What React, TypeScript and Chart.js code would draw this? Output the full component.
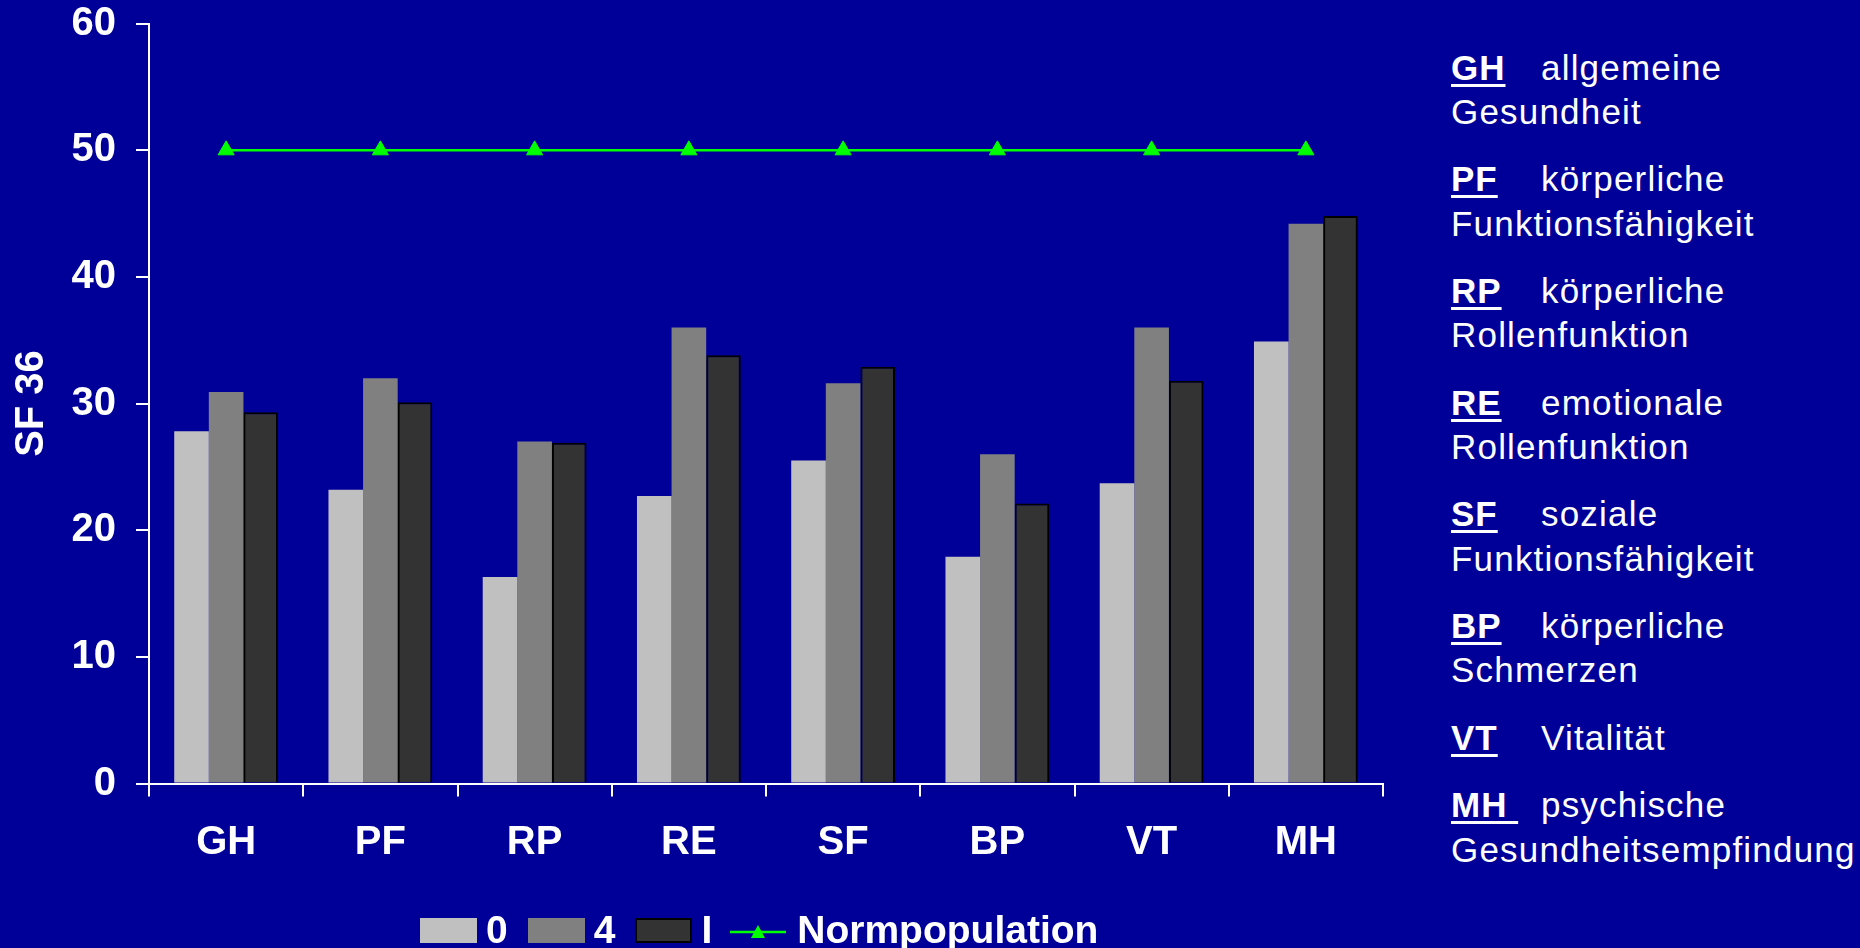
import React, { useEffect, useRef } from "react";
import { Chart, registerables } from "chart.js";

Chart.register(...registerables);

// ---- data ----
const categories = ["GH", "PF", "RP", "RE", "SF", "BP", "VT", "MH"];
const seriesLabels = ["0", "4", "I", "Normpopulation"];
const series0 = [27.8, 23.2, 16.3, 22.7, 25.5, 17.9, 23.7, 34.9];
const series4 = [30.9, 32.0, 27.0, 36.0, 31.6, 26.0, 36.0, 44.2];
const seriesI = [29.3, 30.1, 26.9, 33.8, 32.9, 22.1, 31.8, 44.8];
const normpopulation = [50, 50, 50, 50, 50, 50, 50, 50];
const yTicks = [0, 10, 20, 30, 40, 50, 60];
const yTitle = "SF 36";
const descLine1 = ["allgemeine", "körperliche", "körperliche", "emotionale", "soziale", "körperliche", "Vitalität", "psychische"];
const descLine2 = ["Gesundheit", "Funktionsfähigkeit", "Rollenfunktion", "Rollenfunktion", "Funktionsfähigkeit", "Schmerzen", "", "Gesundheitsempfindung"];

// ---- styles ----
const BG = "#000099";
const FONT = "'Liberation Sans', Arial, Helvetica, sans-serif";
const barColors = ["#C0C0C0", "#808080", "#333333"];
const lineColor = "#00FF00";

export default function App() {
  const canvasRef = useRef<HTMLCanvasElement | null>(null);

  useEffect(() => {
    const canvas = canvasRef.current;
    if (!canvas) return;
    Chart.defaults.font.family = FONT;
    const tickFont = { family: FONT, size: 40, weight: "bold" as const };
    const chart = new Chart(canvas, {
      type: "bar",
      data: {
        labels: categories,
        datasets: [
          {
            type: "line",
            label: seriesLabels[3],
            data: normpopulation,
            borderColor: lineColor,
            backgroundColor: lineColor,
            borderWidth: 2.5,
            pointStyle: "triangle",
            pointRadius: 9.3,
            pointBackgroundColor: lineColor,
            pointBorderColor: lineColor,
            pointBorderWidth: 1,
            order: 0,
          } as any,
          {
            label: seriesLabels[0],
            data: series0,
            backgroundColor: barColors[0],
            borderWidth: 0,
            categoryPercentage: 0.673,
            barPercentage: 1,
            order: 1,
          },
          {
            label: seriesLabels[1],
            data: series4,
            backgroundColor: barColors[1],
            borderWidth: 0,
            categoryPercentage: 0.673,
            barPercentage: 1,
            order: 2,
          },
          {
            label: seriesLabels[2],
            data: seriesI,
            backgroundColor: barColors[2],
            borderColor: "#000000",
            borderWidth: 2,
            categoryPercentage: 0.673,
            barPercentage: 1,
            order: 3,
          },
        ],
      },
      options: {
        responsive: false,
        animation: false,
        devicePixelRatio: 1,
        layout: { padding: { top: 0, right: 17, bottom: 0, left: 0 } },
        plugins: { legend: { display: false }, tooltip: { enabled: false } },
        scales: {
          x: {
            offset: true,
            grid: {
              display: true,
              drawOnChartArea: false,
              drawTicks: true,
              tickLength: 13,
              color: "#FFFFFF",
              lineWidth: 2,
              offset: true,
            },
            border: { display: true, color: "#FFFFFF", width: 2 },
            ticks: { color: "#FFFFFF", font: tickFont, padding: 22, maxRotation: 0 },
            afterFit: (s: any) => {
              s.height = 164.5;
              s.paddingLeft = 0;
              s.paddingRight = 0;
            },
          },
          y: {
            min: 0,
            max: 60,
            afterBuildTicks: (s: any) => {
              s.ticks = yTicks.map((v) => ({ value: v }));
            },
            grid: {
              display: true,
              drawOnChartArea: false,
              drawTicks: true,
              tickLength: 13,
              color: "#FFFFFF",
              lineWidth: 2,
            },
            border: { display: true, color: "#FFFFFF", width: 2 },
            ticks: { color: "#FFFFFF", font: tickFont, padding: 20 },
            title: {
              display: true,
              text: yTitle,
              color: "#FFFFFF",
              font: { family: FONT, size: 40, weight: "bold" },
              padding: { top: 8, bottom: 0 },
            },
            afterFit: (s: any) => {
              s.width = 149;
              s.paddingTop = 23.5;
              s.paddingBottom = 0;
            },
          },
        },
      },
    });
    return () => chart.destroy();
  }, []);

  const legendItems = seriesLabels.map((label, i) => ({
    label,
    kind: i < 3 ? "box" : "line",
    color: i < 3 ? barColors[i] : lineColor,
    border: i === 2,
  }));

  return (
    <div
      style={{
        position: "fixed",
        left: 0,
        top: 0,
        width: 1860,
        height: 948,
        background: BG,
        overflow: "hidden",
        fontFamily: FONT,
        color: "#FFFFFF",
      }}
    >
      <canvas
        ref={canvasRef}
        width={1400}
        height={948}
        style={{ position: "absolute", left: 0, top: 0, width: 1400, height: 948 }}
      />

      {/* legend */}
      <div
        style={{
          position: "absolute",
          left: 420,
          top: 909.7,
          height: 39,
          display: "flex",
          alignItems: "center",
          fontSize: 39,
          fontWeight: "bold",
          lineHeight: "39px",
          whiteSpace: "nowrap",
        }}
      >
        {legendItems.map((it, i) =>
          it.kind === "box" ? (
            <React.Fragment key={i}>
              <div
                style={{
                  width: 57,
                  height: 24.4,
                  marginTop: 2.6,
                  background: it.color,
                  boxSizing: "border-box",
                  border: it.border ? "2px solid #000000" : "none",
                }}
              />
              <span style={{ marginLeft: 9, marginRight: 20 }}>{it.label}</span>
            </React.Fragment>
          ) : (
            <React.Fragment key={i}>
              <svg width={56} height={20} style={{ marginTop: 5, marginLeft: -2 }}>
                <line x1={0} y1={10} x2={56} y2={10} stroke={it.color} strokeWidth={2.5} />
                <polygon points="28,3 35,16 21,16" fill={it.color} />
              </svg>
              <span style={{ marginLeft: 11 }}>{it.label}</span>
            </React.Fragment>
          )
        )}
      </div>

      {/* abbreviation descriptions */}
      <div style={{ position: "absolute", left: 1451, top: 45.7, whiteSpace: "nowrap" }}>
        {categories.map((abbr, i) => (
          <div key={abbr} style={{ fontSize: 35, lineHeight: "44.3px", marginBottom: 23.1 }}>
            <div>
              <span
                style={{
                  display: "inline-block",
                  width: 90,
                  fontWeight: "bold",
                  letterSpacing: 1,
                }}
              >
                <span
                  style={{
                    textDecoration: "underline",
                    textDecorationThickness: "2.5px",
                    textUnderlineOffset: "4px",
                    whiteSpace: "pre",
                  }}
                >
                  {abbr === "MH" ? abbr + " " : abbr}
                </span>
              </span>
              <span style={{ letterSpacing: 1.2 }}>{descLine1[i]}</span>
            </div>
            {descLine2[i] ? <div style={{ letterSpacing: 1.2 }}>{descLine2[i]}</div> : null}
          </div>
        ))}
      </div>
    </div>
  );
}
